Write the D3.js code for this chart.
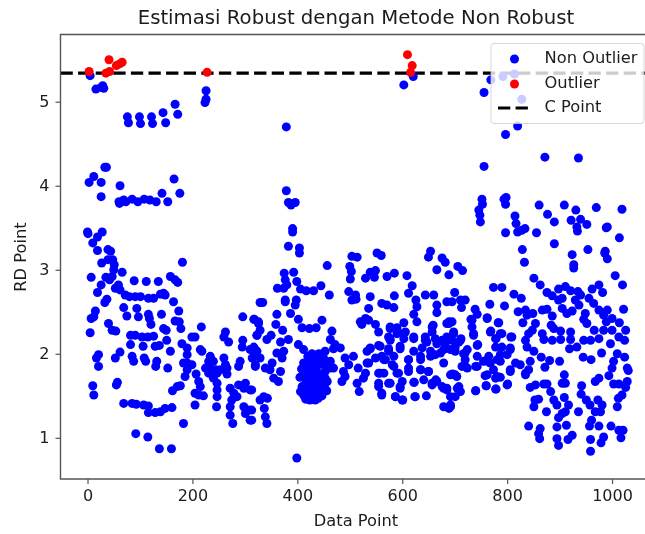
<!DOCTYPE html>
<html>
<head>
<meta charset="utf-8">
<script src="https://cdn.jsdelivr.net/npm/d3@7"></script>
<style>
    html, body { margin: 0; padding: 0; background: #fff; overflow: hidden; }
    svg { filter: blur(0.3px); }
    text { font-family: "DejaVu Sans", sans-serif; fill: #1c1c1c; }
</style>
</head>
<body>
<div id="chart"></div>
<script>
const chartTitle = 'Estimasi Robust dengan Metode Non Robust';
const xLabel = 'Data Point';
const yLabel = 'RD Point';
const xTicks = [0, 200, 400, 600, 800, 1000];
const yTicks = [1, 2, 3, 4, 5];
const cPoint = 5.34;

// [data point, RD point]
const outliers = [
    [3,5.36],[41,5.50],[35,5.34],[42,5.36],[55,5.43],[66,5.47],[61,5.45],[228,5.35],
    [610,5.56],[619,5.43],[616,5.35]
];

const nonOutliers = [
    [5,5.31],[16,5.15],[26,5.17],[31,5.16],[29,5.19],[226,5.13],[226,5.03],[224,4.99],
    [76,4.82],[78,4.75],[99,4.82],[101,4.74],[122,4.82],[124,4.74],[144,4.87],[149,4.75],[167,4.97],[172,4.85],
    [33,4.22],[36,4.22],[12,4.11],[3,4.04],[26,4.04],[26,3.87],[62,4.00],[165,4.08],[176,3.91],[142,3.91],[153,3.81],
    [60,3.81],[61,3.79],[69,3.83],[73,3.81],[85,3.84],[96,3.81],[108,3.84],[119,3.83],[131,3.81],
    [0,3.45],[1,3.43],[28,3.45],[19,3.39],[10,3.32],[19,3.23],[39,3.24],[44,3.22],
    [27,3.08],[39,3.12],[48,3.12],[51,3.06],[50,3.00],[181,3.09],[66,2.97],[7,2.91],[35,2.91],[42,2.88],[47,2.92],
    [89,2.87],[112,2.86],[135,2.86],[158,2.92],[167,2.88],[172,2.85],[26,2.82],[19,2.73],[59,2.82],[53,2.78],[62,2.76],
    [72,2.70],[80,2.68],[91,2.68],[101,2.68],[116,2.66],[126,2.66],[139,2.71],[148,2.70],[145,2.72],[164,2.62],[174,2.51],
    [37,2.65],[33,2.61],[69,2.55],[94,2.54],[75,2.45],[97,2.44],[116,2.47],[121,2.35],[118,2.42],[141,2.47],[15,2.51],
    [12,2.44],[7,2.42],[40,2.36],[47,2.28],[54,2.27],[5,2.25],[167,2.39],[175,2.38],[178,2.30],[145,2.30],[150,2.28],[217,2.32],
    [82,2.22],[91,2.22],[104,2.20],[115,2.20],[126,2.21],[82,2.11],[106,2.09],[129,2.09],[137,2.10],[151,2.16],[158,2.03],
    [180,2.12],[190,2.07],[199,2.20],[205,2.20],[21,1.99],[17,1.95],[21,1.85],[62,2.02],[53,1.95],[85,1.97],[88,1.91],
    [108,1.95],[111,1.91],[132,1.91],[130,1.85],[153,1.83],[190,1.99],[190,1.89],[183,1.89],[199,1.87],[215,2.05],[218,2.03],
    [190,1.81],[186,1.73],[207,1.76],[10,1.62],[12,1.51],[57,1.66],[55,1.63],[177,1.62],[171,1.61],[162,1.56],
    [69,1.41],[85,1.41],[93,1.40],[107,1.39],[116,1.38],[116,1.30],[129,1.30],[139,1.31],[148,1.35],[161,1.36],
    [183,1.17],[92,1.05],[115,1.01],[137,0.87],[160,0.87],
    [296,2.44],[329,2.61],[318,2.41],[326,2.36],[323,2.22],[263,2.26],[260,2.20],[269,2.14],[296,2.16],[295,2.08],[317,2.08],
    [323,2.03],[314,1.95],[320,1.85],[329,1.95],[291,1.91],[288,1.85],[234,1.97],[231,1.91],[240,1.91],[260,1.95],[263,1.87],
    [225,1.83],[234,1.83],[244,1.81],[253,1.81],[266,1.83],[266,1.76],[247,1.77],[231,1.77],[240,1.71],[247,1.65],[247,1.57],
    [212,1.67],[215,1.61],[205,1.53],[221,1.50],[212,1.51],[205,1.39],[246,1.37],[247,1.49],[272,1.59],[288,1.63],[301,1.65],
    [310,1.57],[298,1.59],[279,1.53],[275,1.45],[272,1.37],[272,1.27],[277,1.17],[298,1.37],[301,1.29],[310,1.21],[307,1.33],
    [329,1.45],[285,1.49],
    [379,4.70],[379,3.94],[383,3.80],[388,3.77],[396,3.80],[391,3.49],[391,3.45],[383,3.28],[404,3.26],[603,5.20],[621,5.30],
    [404,3.20],[504,3.16],[514,3.15],[552,3.20],[560,3.17],[650,3.15],[654,3.22],[676,3.14],[682,3.09],[457,3.05],[500,3.04],
    [503,2.98],[501,2.89],[549,2.99],[539,2.97],[530,2.90],[547,2.91],[571,2.92],[585,2.96],[609,2.93],[666,3.00],[689,2.94],
    [375,2.96],[393,2.97],[377,2.88],[380,2.82],[362,2.78],[374,2.78],[399,2.86],[406,2.77],[417,2.75],[431,2.75],[445,2.81],
    [461,2.70],[619,2.81],[612,2.72],[644,2.70],[660,2.70],[498,2.74],[511,2.70],[504,2.64],[512,2.65],[539,2.68],[585,2.69],
    [334,2.61],[377,2.64],[377,2.62],[398,2.64],[396,2.58],[387,2.48],[626,2.64],[628,2.56],[561,2.60],[571,2.58],[584,2.55],
    [536,2.54],[685,2.62],[666,2.58],[666,2.49],[622,2.47],[628,2.38],[361,2.47],[317,2.41],[326,2.38],[359,2.35],[402,2.41],
    [447,2.40],[409,2.31],[423,2.30],[436,2.31],[372,2.28],[466,2.27],[520,2.38],[530,2.42],[536,2.40],[523,2.35],[549,2.35],
    [555,2.26],[603,2.37],[577,2.30],[590,2.31],[659,2.34],[685,2.36],[657,2.26],[329,2.28],[323,2.22],[350,2.22],[342,2.17],
    [368,2.14],[383,2.17],[402,2.11],[463,2.17],[472,2.11],[482,2.07],[469,2.06],[453,2.03],[441,2.00],[428,2.00],[412,2.05],
    [574,2.20],[590,2.24],[606,2.26],[622,2.18],[603,2.18],[577,2.16],[596,2.06],[644,2.20],[663,2.18],[647,2.14],[676,2.16],
    [685,2.20],[638,2.07],[622,2.03],[539,2.06],[555,2.10],[574,2.06],[533,2.03],[310,2.05],[320,2.05],[317,1.97],[320,1.87],
    [352,1.89],[361,2.01],[374,2.03],[371,1.95],[339,1.83],[348,1.81],[368,1.79],[355,1.71],[364,1.67],[463,1.91],[453,1.87],
    [469,1.83],[491,1.95],[507,1.97],[498,1.87],[488,1.79],[491,1.73],[485,1.67],[516,1.83],[533,1.89],[549,1.95],[561,1.97],
    [568,1.93],[584,1.97],[612,1.93],[612,1.83],[635,1.97],[654,1.97],[663,1.99],[679,2.05],[692,2.05],[679,1.89],[530,1.77],
    [526,1.71],[514,1.65],[518,1.55],[555,1.77],[565,1.77],[584,1.85],[593,1.77],[600,1.67],[596,1.59],[574,1.65],[555,1.61],
    [561,1.51],[587,1.49],[601,1.45],[624,1.49],[646,1.50],[623,1.66],[635,1.81],[650,1.79],[657,1.65],[664,1.69],[676,1.61],
    [685,1.57],[692,1.75],[679,1.37],[692,1.37],[313,1.57],[336,1.49],[343,1.47],[337,1.35],[339,1.25],[342,1.17],[313,1.33],
    [313,1.21],[399,0.76],
    [412,1.89],[425,1.89],[441,1.87],[412,1.79],[425,1.79],[437,1.79],[453,1.79],[415,1.71],[428,1.71],[441,1.71],[453,1.71],
    [409,1.61],[422,1.61],[434,1.63],[447,1.61],[406,1.55],[418,1.53],[434,1.45],[447,1.50],[428,1.49],[412,1.51],[457,1.67],
    [463,1.83],[418,1.85],[431,1.83],[444,1.75],[422,1.67],[434,1.57],[444,1.55],[425,1.57],[437,1.67],
    [405,1.72],[415,1.63],[420,1.76],[430,1.75],[438,1.53],[452,1.63],[440,1.92],[420,1.97],[432,1.95],[450,1.95],[408,1.82],
    [447,1.68],[456,1.56],[416,1.46],[440,1.47],[424,1.45],
    [577,2.32],[577,2.18],[600,2.24],[596,2.09],[622,2.20],[644,2.16],[657,2.32],[666,2.12],[689,2.36],[698,2.24],[711,2.16],
    [724,2.05],[743,2.10],[736,2.24],[733,2.40],[539,2.07],[558,2.09],[574,2.03],[565,1.93],[536,1.89],[581,1.87],[558,1.77],
    [590,1.77],[612,1.93],[612,1.79],[635,1.93],[635,1.81],[650,1.79],[654,2.03],[673,2.01],[701,1.75],[666,1.67],[679,1.59],
    [705,1.59],[692,1.49],[625,1.49],[587,1.49],[600,1.45],[561,1.53],[555,1.65],[577,1.65],[596,1.61],[622,1.66],[641,1.69],
    [657,1.63],[720,2.01],[720,1.85],[740,1.85],[762,1.91],[762,1.75],[781,1.73],[787,1.91],[806,2.05],[806,1.81],[825,1.87],
    [835,1.77],[790,2.24],[809,2.20],[778,2.18],[768,2.26],[784,2.37],[762,2.42],[800,1.63],[760,1.62],[778,1.58],[740,1.56],
    [769,5.26],[756,5.11],[797,4.61],[820,4.71],[872,4.34],[936,4.33],[756,4.23],[752,3.84],[753,3.78],[746,3.71],[748,3.65],
    [749,3.57],[798,3.86],[797,3.78],[794,3.84],[861,3.77],[909,3.77],[931,3.71],[970,3.74],[1019,3.72],[877,3.66],[890,3.57],
    [922,3.59],[940,3.60],[952,3.54],[991,3.51],[989,3.50],[933,3.51],[934,3.46],[815,3.64],[817,3.55],[834,3.49],[828,3.47],
    [820,3.45],[797,3.44],[856,3.44],[1014,3.38],[890,3.31],[829,3.24],[954,3.24],[987,3.22],[924,3.18],[792,5.30],[814,5.33],[828,5.03],
    [833,3.09],[927,3.06],[927,3.02],[986,3.20],[991,3.13],[1006,2.93],[1020,2.82],[851,2.90],[863,2.82],[706,3.04],[715,2.99],
    [774,2.79],[790,2.79],[813,2.71],[827,2.66],[876,2.73],[886,2.69],[898,2.64],[905,2.66],[898,2.77],[911,2.80],[921,2.75],
    [935,2.74],[940,2.70],[930,2.64],[962,2.77],[975,2.82],[982,2.73],[956,2.66],[965,2.60],[937,2.58],[905,2.54],[924,2.51],
    [914,2.48],[975,2.52],[991,2.52],[1022,2.53],[700,2.73],[720,2.64],[711,2.64],[695,2.62],[713,2.55],[739,2.53],[743,2.47],
    [767,2.59],[795,2.57],[821,2.50],[835,2.52],[849,2.48],[838,2.46],[830,2.37],[867,2.52],[876,2.53],[886,2.45],[949,2.48],
    [946,2.41],[952,2.36],[984,2.46],[1000,2.42],[1014,2.37],[1026,2.28],[989,2.38],[984,2.28],[1000,2.28],[762,2.43],[731,2.41],
    [783,2.37],[733,2.32],[695,2.38],[689,2.38],[698,2.26],[736,2.22],[769,2.27],[787,2.24],[807,2.20],[779,2.18],[712,2.18],
    [695,2.16],[744,2.11],[682,2.12],[701,2.08],[854,2.36],[848,2.28],[841,2.24],[835,2.16],[838,2.08],[851,2.03],[867,2.24],
    [870,2.17],[884,2.34],[889,2.30],[902,2.27],[921,2.26],[902,2.17],[921,2.17],[886,2.16],[966,2.28],[946,2.16],[959,2.16],
    [975,2.18],[997,2.12],[1013,2.20],[1024,2.16],[933,2.08],[919,2.06],[980,2.01],[1010,2.00],[1024,1.96],[945,1.96],[960,1.93],
    [865,1.96],[881,1.92],[900,1.91],[872,1.84],[844,1.91],[841,1.81],[835,1.75],[816,1.89],[806,1.79],[800,1.99],[806,2.07],
    [790,2.08],[778,2.08],[765,1.97],[755,1.91],[768,1.89],[743,1.97],[743,1.85],[724,1.83],[714,1.85],[717,2.00],[720,1.93],
    [701,2.03],[708,2.14],[781,1.93],[787,1.99],[774,1.81],[758,1.74],[778,1.71],[787,1.72],[760,1.62],[779,1.58],[801,1.64],
    [740,1.56],[696,1.76],[704,1.73],[685,1.59],[708,1.61],[711,1.55],[701,1.49],[692,1.39],[689,1.35],[1000,1.83],[994,1.74],
    [1003,1.91],[1029,1.83],[1031,1.80],[909,1.75],[905,1.65],[911,1.65],[975,1.71],[968,1.67],[1003,1.64],[1013,1.64],[1029,1.67],
    [1026,1.60],[844,1.60],[854,1.63],[870,1.64],[876,1.64],[883,1.55],[889,1.45],[895,1.39],[942,1.62],[941,1.52],[951,1.45],
    [958,1.39],[909,1.48],[1019,1.51],[1012,1.47],[1010,1.37],[973,1.45],[981,1.39],[968,1.31],[978,1.31],[860,1.46],[853,1.45],
    [851,1.37],[875,1.31],[917,1.39],[911,1.31],[905,1.29],[898,1.24],[936,1.31],[961,1.21],[957,1.14],[975,1.14],[998,1.14],
    [841,1.14],[863,1.11],[860,1.05],[862,0.99],[895,1.13],[913,1.15],[924,1.03],[916,0.98],[895,0.99],[898,0.91],[959,0.98],
    [984,1.01],[979,0.94],[959,0.84],[1013,1.09],[1021,1.09],[1017,1.00]
];

const width = 645;
const height = 534;
const margin = { top: 34.5, right: -9, bottom: 55, left: 60.5 };
const pointRadius = 4.5;

const svg = d3.select('#chart')
    .append('svg')
    .attr('width', width)
    .attr('height', height);

const x = d3.scaleLinear()
    .domain([-51.5, 1080])
    .range([margin.left, width - margin.right]);

const y = d3.scaleLinear()
    .domain([0.51, 5.8])
    .range([height - margin.bottom, margin.top]);

const spineColor = '#555';

// C point line sits under the points
svg.append('line')
    .attr('x1', margin.left)
    .attr('x2', width - margin.right)
    .attr('y1', y(cPoint))
    .attr('y2', y(cPoint))
    .attr('stroke', '#000')
    .attr('stroke-width', 3.2)
    .attr('stroke-dasharray', '12.3 5.3');

svg.append('g')
    .selectAll('circle')
    .data(nonOutliers)
    .join('circle')
    .attr('cx', d => x(d[0]))
    .attr('cy', d => y(d[1]))
    .attr('r', pointRadius)
    .attr('fill', '#0000ff');

svg.append('g')
    .selectAll('circle')
    .data(outliers)
    .join('circle')
    .attr('cx', d => x(d[0]))
    .attr('cy', d => y(d[1]))
    .attr('r', pointRadius)
    .attr('fill', '#ff0000');

const xAxis = svg.append('g')
    .attr('transform', `translate(0,${height - margin.bottom})`)
    .call(d3.axisBottom(x).tickValues(xTicks).tickFormat(d3.format('d')).tickSize(5).tickPadding(6));

const yAxis = svg.append('g')
    .attr('transform', `translate(${margin.left},0)`)
    .call(d3.axisLeft(y).tickValues(yTicks).tickFormat(d3.format('d')).tickSize(5).tickPadding(6));

[xAxis, yAxis].forEach(function (axis) {
    axis.selectAll('text').attr('font-size', 16).attr('font-family', null);
    axis.selectAll('line').attr('stroke', spineColor).attr('stroke-width', 1.2);
    axis.select('.domain').remove();
});

// spines, the right one falls outside the picture
svg.append('path')
    .attr('d', `M${width - margin.right},${margin.top}H${margin.left}V${height - margin.bottom}H${width - margin.right}`)
    .attr('fill', 'none')
    .attr('stroke', spineColor)
    .attr('stroke-width', 1.4);

svg.append('text')
    .attr('x', 356)
    .attr('y', 24)
    .attr('text-anchor', 'middle')
    .attr('font-size', 19.7)
    .text(chartTitle);

svg.append('text')
    .attr('x', 356)
    .attr('y', 526)
    .attr('text-anchor', 'middle')
    .attr('font-size', 16.3)
    .text(xLabel);

svg.append('text')
    .attr('transform', 'translate(26,257) rotate(-90)')
    .attr('text-anchor', 'middle')
    .attr('font-size', 16.3)
    .text(yLabel);

// Legend
const legend = svg.append('g');

legend.append('rect')
    .attr('x', 491)
    .attr('y', 43.5)
    .attr('width', 153)
    .attr('height', 80)
    .attr('rx', 3)
    .attr('fill', '#fff')
    .attr('fill-opacity', 0.8)
    .attr('stroke', '#ccc')
    .attr('stroke-opacity', 0.8);

legend.append('circle').attr('cx', 514.5).attr('cy', 59).attr('r', pointRadius).attr('fill', '#0000ff');
legend.append('circle').attr('cx', 514.5).attr('cy', 84).attr('r', pointRadius).attr('fill', '#ff0000');
legend.append('line')
    .attr('x1', 498)
    .attr('x2', 528)
    .attr('y1', 108)
    .attr('y2', 108)
    .attr('stroke', '#000')
    .attr('stroke-width', 3.2)
    .attr('stroke-dasharray', '12.3 5.3');

['Non Outlier', 'Outlier', 'C Point'].forEach(function (label, i) {
    legend.append('text')
        .attr('x', 544.5)
        .attr('y', 63 + i * 24.7)
        .attr('font-size', 16.3)
        .text(label);
});
</script>
</body>
</html>
